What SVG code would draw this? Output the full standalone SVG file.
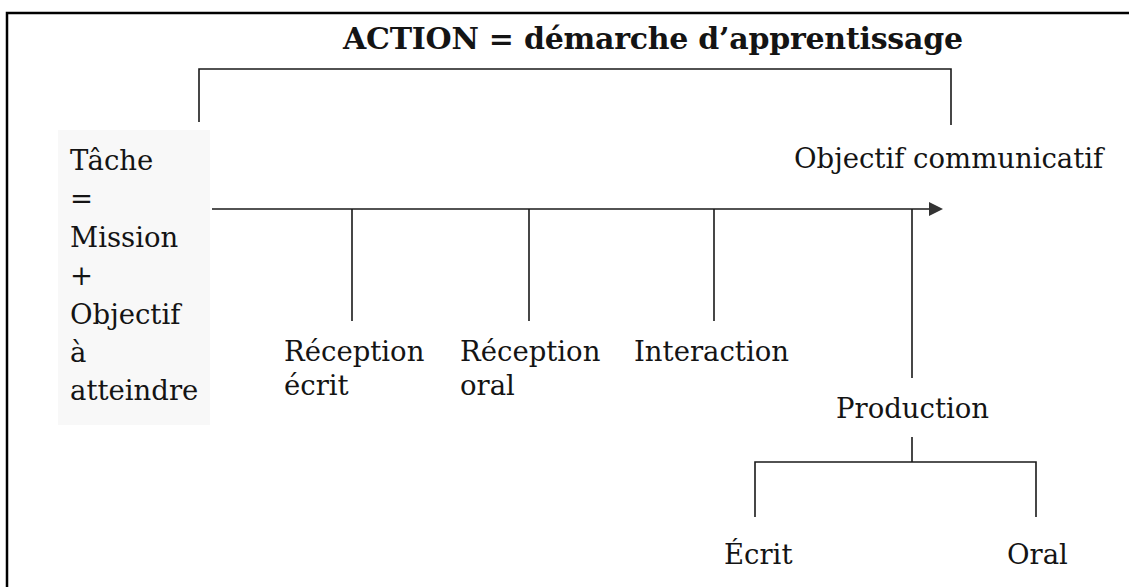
<svg xmlns="http://www.w3.org/2000/svg" width="1132" height="587" viewBox="0 0 1132 587">
<defs>
<style>
.t{font-family:"DejaVu Serif","Liberation Serif",serif;font-size:27.5px;fill:#141414}
.title{font-family:"DejaVu Serif","Liberation Serif",serif;font-size:30px;font-weight:bold;fill:#141414}
.ln{fill:none;stroke:#1a1a1a;stroke-width:1.6}
.frame{fill:none;stroke:#000;stroke-width:2.5}
</style>
</defs>
<rect width="1132" height="587" fill="#fff"/>
<path class="frame" d="M7,587 V13 H1129"/>
<g id="title"><text class="title" x="343" y="49" textLength="620">ACTION = démarche d’apprentissage</text></g>
<g id="tache">
<rect x="58" y="130" width="152" height="295" fill="#f8f8f8"/>
<text class="t" x="70" y="170">Tâche</text>
<text class="t" x="70" y="208">=</text>
<text class="t" x="70" y="247">Mission</text>
<text class="t" x="70" y="285">+</text>
<text class="t" x="70" y="324">Objectif</text>
<text class="t" x="70" y="362">à</text>
<text class="t" x="70" y="400">atteindre</text>
</g>
<g id="objectif"><text class="t" x="794" y="168">Objectif communicatif</text></g>
<g id="reception-ecrit"><text class="t" x="284" y="361">Réception</text><text class="t" x="284" y="395">écrit</text></g>
<g id="reception-oral"><text class="t" x="460" y="361">Réception</text><text class="t" x="460" y="395">oral</text></g>
<g id="interaction"><text class="t" x="634" y="361">Interaction</text></g>
<g id="production"><text class="t" x="836" y="418">Production</text></g>
<g id="ecrit"><text class="t" x="724" y="564">Écrit</text></g>
<g id="oral"><text class="t" x="1007" y="564">Oral</text></g>
<g id="connectors">
<path class="ln" d="M199,122 V69 H951 V125"/>
<path class="ln" d="M212,209 H932" stroke-width="2"/>
<polygon points="929,202 943,209 929,216" fill="#333"/>
<path class="ln" d="M352,209 V321 M529,209 V321 M714,209 V321 M912,209 V378"/>
<path class="ln" d="M912,437 V462 M755,517 V462 H1036 V517"/>
</g>
</svg>
